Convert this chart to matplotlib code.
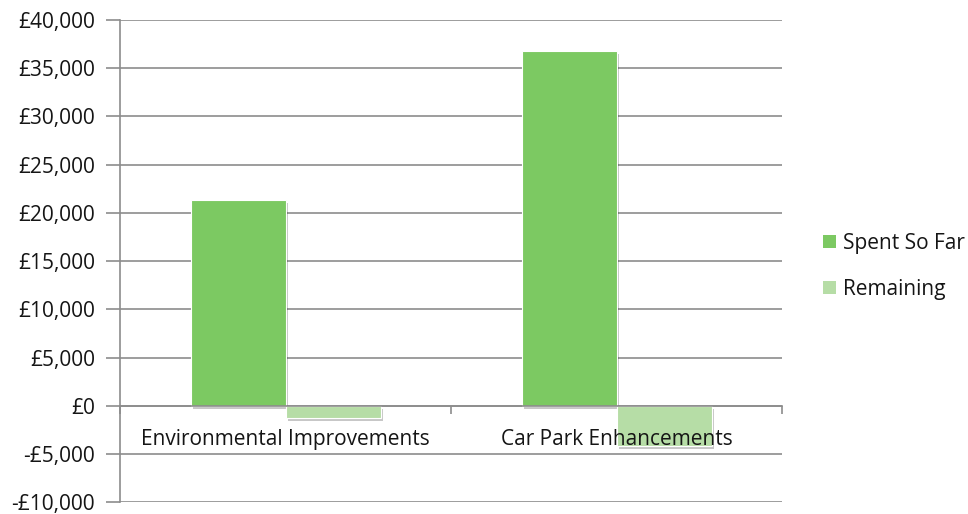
import numpy as np
import matplotlib
matplotlib.use("Agg")
import matplotlib.pyplot as plt
import matplotlib.patheffects as pe
from matplotlib.ticker import FuncFormatter

categories = ["Environmental Improvements", "Car Park Enhancements"]
spent = [21350, 36800]
remaining = [-1250, -4200]
series_names = ["Spent So Far", "Remaining"]
colors = ["#7cc962", "#b6dda6"]

plt.rcParams['font.family'] = ['Open Sans', 'DejaVu Sans']
FS = 15
TXT = "#151515"

fig = plt.figure(figsize=(9.68, 5.14), dpi=100)
ax = fig.add_axes([0.124, 0.023, 0.684, 0.938])

x = np.arange(len(categories)) + 0.5
width = 0.287
shadow = [pe.SimplePatchShadow(offset=(2, -2), shadow_rgbFace="#000000", alpha=0.22), pe.Normal()]
b1 = ax.bar(x - width / 2, spent, width, color=colors[0], edgecolor="white", linewidth=0.8,
            label=series_names[0], zorder=3)
b2 = ax.bar(x + width / 2, remaining, width, color=colors[1], edgecolor="white", linewidth=0.8,
            label=series_names[1], zorder=3)
for p in list(b1) + list(b2):
    p.set_path_effects(shadow)

ax.set_xlim(0, 2)
ax.set_ylim(-10000, 40000)
ax.set_yticks(np.arange(-10000, 40001, 5000))

def money(v, pos):
    if v < 0:
        return "-£{:,.0f}".format(-v)
    return "£{:,.0f}".format(v)

ax.yaxis.set_major_formatter(FuncFormatter(money))
ax.grid(axis="y", color="#8c8c8c", linewidth=1.2, zorder=0)
ax.set_axisbelow(True)

for s in ["top", "right"]:
    ax.spines[s].set_visible(False)
ax.spines["left"].set_color("#8c8c8c")
ax.spines["left"].set_linewidth(1.2)
ax.spines["bottom"].set_position(("data", 0))
ax.spines["bottom"].set_color("#8c8c8c")
ax.spines["bottom"].set_linewidth(1.2)
ax.spines["bottom"].set_zorder(4)

ax.set_xticks([0, 1, 2])
ax.set_xticklabels([])
ax.tick_params(axis="x", which="major", length=6, color="#8c8c8c", width=1.2)
ax.tick_params(axis="y", length=10, color="#8c8c8c", width=1.2, labelsize=FS,
               labelcolor=TXT, pad=8)

# category names sit under the zero line, drawn on top of the bars
for xi, name in zip(x, categories):
    ax.annotate(name, xy=(xi, 0), xytext=(0, -24), textcoords="offset points",
                ha="center", va="center", fontsize=FS, color=TXT, zorder=6)

leg = fig.legend(handles=[b1, b2], labels=series_names, loc="center left",
                 bbox_to_anchor=(0.831, 0.482), frameon=False, fontsize=FS,
                 handlelength=0.6, handleheight=0.6, labelspacing=1.2, handletextpad=0.35)
for h in leg.legend_handles:
    h.set_path_effects([])
    h.set_edgecolor("none")
for t in leg.get_texts():
    t.set_color(TXT)

fig.savefig("out.png", dpi=100)
